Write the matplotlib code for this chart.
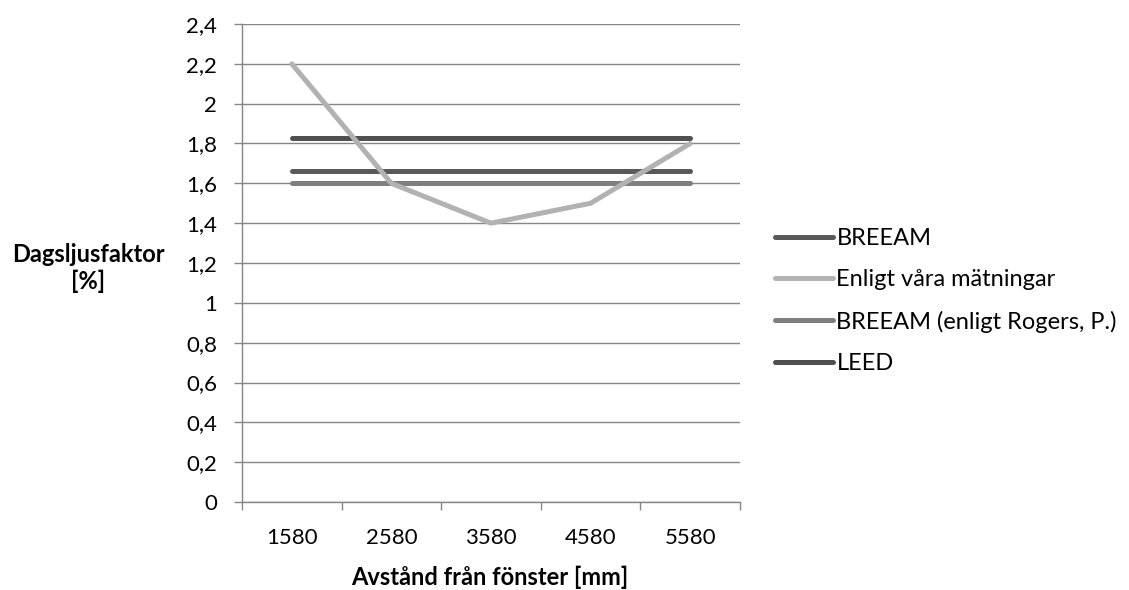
import matplotlib
matplotlib.use("Agg")
import matplotlib.pyplot as plt
import numpy as np

plt.rcParams['font.family'] = ['Lato', 'DejaVu Sans']

categories = ["1580", "2580", "3580", "4580", "5580"]
breeam = [1.66, 1.66, 1.66, 1.66, 1.66]
matningar = [2.2, 1.6, 1.4, 1.5, 1.8]
rogers = [1.6, 1.6, 1.6, 1.6, 1.6]
leed = [1.83, 1.83, 1.83, 1.83, 1.83]
yticks = [0, 0.2, 0.4, 0.6, 0.8, 1.0, 1.2, 1.4, 1.6, 1.8, 2.0, 2.2, 2.4]
ytick_labels = ["0", "0,2", "0,4", "0,6", "0,8", "1", "1,2", "1,4", "1,6", "1,8", "2", "2,2", "2,4"]

fig = plt.figure(figsize=(11.29, 5.90), dpi=100)
ax = fig.add_axes([242/1129, 1-502/590, (740-242)/1129, (502-24)/590])

x = np.arange(len(categories))
lw = 3.6
kw = dict(solid_capstyle='round', solid_joinstyle='miter', lw=lw)
l1, = ax.plot(x, breeam, color='#595959', label='BREEAM', **kw)
l3, = ax.plot(x, rogers, color='#7f7f7f', label='BREEAM (enligt Rogers, P.)', **kw)
l4, = ax.plot(x, leed, color='#505050', label='LEED', **kw)
l2, = ax.plot(x, matningar, color='#b2b2b2', label='Enligt våra mätningar', **kw)

ax.set_xlim(-0.5, len(categories) - 0.5)
ax.set_ylim(0, 2.4)
ax.set_yticks(yticks)
ax.set_yticklabels(ytick_labels)
ax.set_xticks(x)
ax.set_xticklabels(categories)
ax.set_xticks(np.arange(-0.5, len(categories), 1.0), minor=True)
ax.tick_params(axis='x', which='major', length=0, pad=19, labelsize=16)
ax.tick_params(axis='x', which='minor', length=6, width=1, color='#868686', direction='out')
ax.tick_params(axis='y', which='major', length=6, width=1, color='#868686', labelsize=16, pad=12)

ax.grid(axis='y', color='#868686', lw=1)
ax.set_axisbelow(True)
for s in ['top', 'right']:
    ax.spines[s].set_visible(False)
for s in ['left', 'bottom']:
    ax.spines[s].set_color('#868686')
    ax.spines[s].set_linewidth(1)

fig.text(88/1129, 1-268/590, "Dagsljusfaktor\n[%]", ha='center', va='center',
         fontsize=17, fontweight='bold', linespacing=1.2)
fig.text(490/1129, 1-577/590, "Avstånd från fönster [mm]", ha='center', va='center',
         fontsize=17, fontweight='bold')

leg = fig.legend(handles=[l1, l2, l3, l4], loc='center left',
                 bbox_to_anchor=(775/1129, 1-301/590), frameon=False,
                 fontsize=17, handlelength=2.45, handletextpad=0.15,
                 labelspacing=0.86, borderaxespad=0, borderpad=0)

fig.savefig("out.png", dpi=100)
